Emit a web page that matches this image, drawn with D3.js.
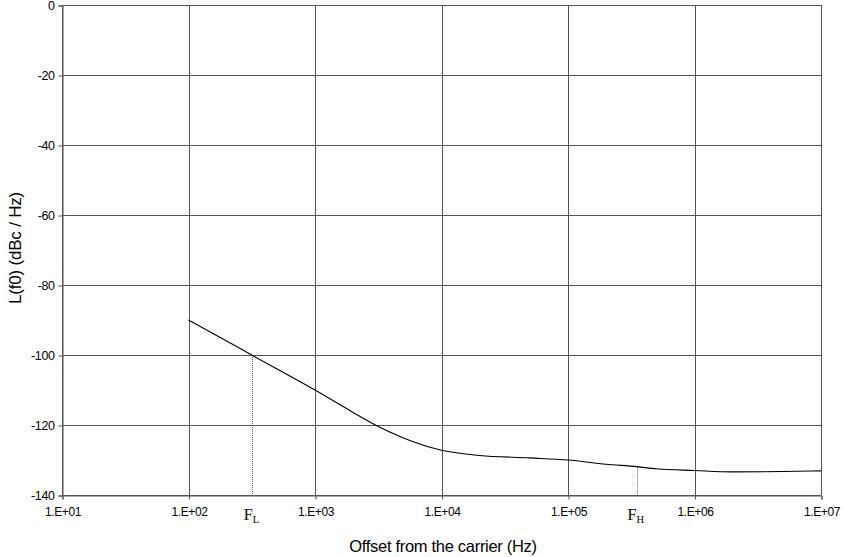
<!DOCTYPE html>
<html><head><meta charset="utf-8">
<script src="https://cdn.jsdelivr.net/npm/d3@7"></script>
<style>body{margin:0;background:#fff}svg{display:block}</style>
</head><body><svg id="c" width="844" height="557"></svg>
<script>
const freqs = [100, 200, 316, 1000, 2000, 3000, 5000, 10000, 20000, 50000, 100000, 200000, 350000, 500000, 1000000, 2000000, 5000000, 10000000];
const levels = [-90, -96, -100, -110, -116.4, -120, -123.7, -127.2, -128.7, -129.4, -130, -131.2, -131.9, -132.5, -133, -133.4, -133.3, -133.1];
const xTicks = [1e1, 1e2, 1e3, 1e4, 1e5, 1e6, 1e7];
const xTickLabels = ["1.E+01", "1.E+02", "1.E+03", "1.E+04", "1.E+05", "1.E+06", "1.E+07"];
const yTicks = [0, -20, -40, -60, -80, -100, -120, -140];
const markerFreqs = [320, 350000];
const markerLevels = [-100, -131.9];
const markerLabels = ["L", "H"];

const svg = d3.select("#c");
const L = 62, R = 821, T = 5, B = 495;
const x = d3.scaleLog().domain([1e1, 1e7]).range([L, R]);
const y = d3.scaleLinear().domain([-140, 0]).range([B, T]);
const font = "Liberation Sans, Arial, sans-serif";

// grid
svg.append("g").selectAll("line").data(yTicks).join("line")
  .attr("x1", L).attr("x2", R).attr("y1", d => y(d) + 0.5).attr("y2", d => y(d) + 0.5)
  .attr("stroke", "#555").attr("stroke-width", 1);
svg.append("g").selectAll("line").data(xTicks).join("line")
  .attr("y1", T).attr("y2", B).attr("x1", d => Math.round(x(d)) + 0.5).attr("x2", d => Math.round(x(d)) + 0.5)
  .attr("stroke", "#555").attr("stroke-width", 1);

// axes
const xAxis = d3.axisBottom(x).tickValues(xTicks).tickFormat((d, i) => xTickLabels[i]).tickSize(4).tickPadding(8);
const gx = svg.append("g").attr("transform", `translate(0.5,${B + 0.5})`).call(xAxis);
gx.select(".domain").attr("stroke", "#555");
gx.selectAll(".tick line").attr("stroke", "#555");
gx.selectAll("text").attr("font-family", font).attr("font-size", 12).attr("letter-spacing", "-0.4").attr("fill", "#000");

const yAxis = d3.axisLeft(y).tickValues(yTicks).tickFormat(d => String(d)).tickSize(4).tickPadding(4);
const gy = svg.append("g").attr("transform", `translate(${L + 0.5},0.5)`).call(yAxis);
gy.select(".domain").attr("stroke", "#555");
gy.selectAll(".tick line").attr("stroke", "#555");
gy.selectAll("text").attr("font-family", font).attr("font-size", 12.5).attr("letter-spacing", "-0.4").attr("fill", "#000");

// marker dotted lines
const markers = markerFreqs.map((f, i) => ({f, v: markerLevels[i], s: markerLabels[i]}));
svg.append("g").selectAll("line").data(markers).join("line")
  .attr("x1", d => Math.round(x(d.f)) + 0.5).attr("x2", d => Math.round(x(d.f)) + 0.5)
  .attr("y1", d => y(d.v)).attr("y2", B)
  .attr("stroke", "#666").attr("stroke-width", 1).attr("stroke-dasharray", "1,1");

// curve
const data = freqs.map((f, i) => [f, levels[i]]);
svg.append("path").datum(data)
  .attr("d", d3.line().x(d => x(d[0])).y(d => y(d[1])).curve(d3.curveMonotoneX))
  .attr("fill", "none").attr("stroke", "#000").attr("stroke-width", 1.1);

// marker labels
const ml = svg.append("g").selectAll("text").data(markers).join("text")
  .attr("x", d => x(d.f) - 1).attr("y", 520).attr("text-anchor", "middle")
  .attr("font-family", "Liberation Serif, Times New Roman, serif").attr("font-size", 16).attr("fill", "#000");
ml.append("tspan").text("F");
ml.append("tspan").attr("font-size", 10.5).attr("dy", 3).text(d => d.s);

// axis titles
svg.append("text").attr("x", 443).attr("y", 552).attr("text-anchor", "middle")
  .attr("font-family", font).attr("font-size", 16.5).attr("letter-spacing", "-0.3").text("Offset from the carrier (Hz)");
svg.append("text").attr("transform", "translate(21,248) rotate(-90)").attr("text-anchor", "middle")
  .attr("font-family", font).attr("font-size", 17).attr("letter-spacing", "-0.2").text("L(f0) (dBc / Hz)");
</script></body></html>
